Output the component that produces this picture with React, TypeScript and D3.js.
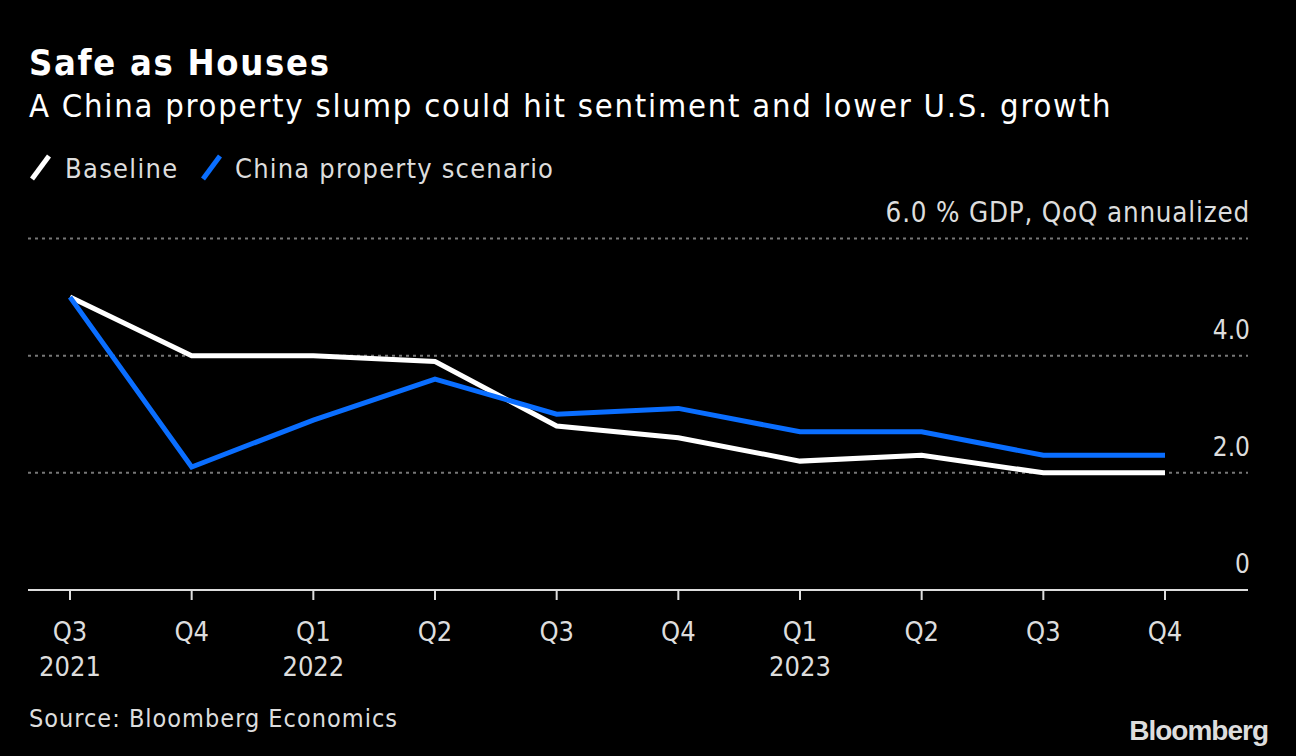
import React from "react";
import * as d3 from "d3";

const quarters = ["Q3", "Q4", "Q1", "Q2", "Q3", "Q4", "Q1", "Q2", "Q3", "Q4"];
const years = ["2021", "", "2022", "", "", "", "2023", "", "", ""];
const baseline = [5.0, 4.0, 4.0, 3.9, 2.8, 2.6, 2.2, 2.3, 2.0, 2.0];
const chinaScenario = [5.0, 2.1, 2.9, 3.6, 3.0, 3.1, 2.7, 2.7, 2.3, 2.3];
const yTicks = [0, 2, 4, 6];

const W = 1296;
const H = 756;
const FONT = "'DejaVu Sans Condensed', 'DejaVu Sans', sans-serif";
const BLUE = "#0a6eff";

export default function App() {
  const idx = quarters.map((_, i) => i);
  const x = d3.scalePoint<number>().domain(idx).range([70, 1165]);
  const y = d3.scaleLinear().domain([0, 6]).range([590, 238.5]);
  const line = d3
    .line<number>()
    .x((_, i) => x(i) as number)
    .y((d) => y(d));

  return (
    <svg
      width={W}
      height={H}
      style={{ position: "absolute", left: 0, top: 0, background: "#000" }}
      fontFamily={FONT}
    >
      <rect x={0} y={0} width={W} height={H} fill="#000" />
      <text x={29} y={75} fill="#fff" fontSize={36} fontWeight="bold" letterSpacing={1.7}>
        Safe as Houses
      </text>
      <text x={29} y={117} fill="#fff" fontSize={32.5} letterSpacing={1.76}>
        A China property slump could hit sentiment and lower U.S. growth
      </text>
      {/* legend */}
      <line x1={32} y1={179} x2={49} y2={156} stroke="#fff" strokeWidth={5} />
      <text x={65} y={178} fill="#ddd" fontSize={27} letterSpacing={1.3}>
        Baseline
      </text>
      <line x1={203} y1={179} x2={220} y2={156} stroke={BLUE} strokeWidth={5} />
      <text x={235} y={178} fill="#ddd" fontSize={27} letterSpacing={1.2}>
        China property scenario
      </text>

      {/* gridlines */}
      {yTicks.filter((t) => t > 0).map((t) => (
        <line
          key={t}
          x1={28}
          x2={1248}
          y1={y(t)}
          y2={y(t)}
          stroke="#777"
          strokeWidth={2}
          strokeDasharray="3 4"
        />
      ))}
      {yTicks.map((t) => (
        <text
          key={"l" + t}
          x={1250}
          y={y(t) - 17}
          fill="#ddd"
          fontSize={t === 6 ? 27.5 : 26}
          letterSpacing={t === 6 ? 0.8 : 0}
          textAnchor="end"
        >
          {t === 0 ? "0" : t === 6 ? "6.0 % GDP, QoQ annualized" : t.toFixed(1)}
        </text>
      ))}

      {/* x axis */}
      <line x1={28} x2={1248} y1={590} y2={590} stroke="#ddd" strokeWidth={2} />
      {idx.map((i) => (
        <g key={i} transform={`translate(${x(i)},0)`}>
          <line y1={590} y2={600} stroke="#ddd" strokeWidth={2} />
          <text y={641} fill="#ddd" fontSize={27} textAnchor="middle">
            {quarters[i]}
          </text>
          {years[i] && (
            <text y={676} fill="#ddd" fontSize={27} textAnchor="middle">
              {years[i]}
            </text>
          )}
        </g>
      ))}

      {/* lines */}
      <path d={line(baseline) || ""} fill="none" stroke="#fff" strokeWidth={5} strokeLinejoin="miter" />
      <path d={line(chinaScenario) || ""} fill="none" stroke={BLUE} strokeWidth={5} strokeLinejoin="miter" />

      <text x={29} y={727} fill="#ddd" fontSize={25} letterSpacing={1}>
        Source: Bloomberg Economics
      </text>
      <text
        x={1268}
        y={740}
        fill="#ddd"
        fontSize={28}
        fontWeight="bold"
        textAnchor="end"
        fontFamily="'Liberation Sans', Arial, sans-serif"
        letterSpacing={-1}
      >
        Bloomberg
      </text>
    </svg>
  );
}
